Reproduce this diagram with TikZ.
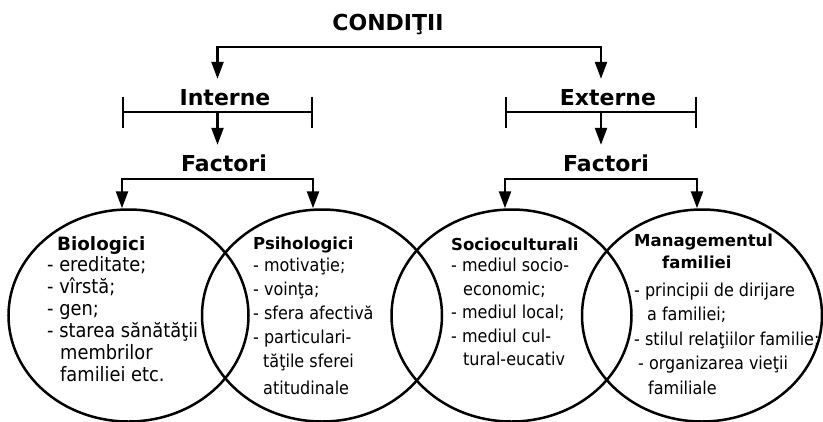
\documentclass[tikz,border=0pt]{standalone}
\usepackage{fontspec}
\setmainfont{DejaVu Sans}
\newfontfamily\corp{DejaVu Sans}[FakeStretch=0.9]
\usetikzlibrary{arrows.meta,shapes.geometric,calc}
\newcommand{\ind}[1]{\hspace*{#1pt}}

\begin{document}
\begin{tikzpicture}[x=1pt, y=-1pt]
	\tikzset{titlu/.style={font={\fontsize{22}{26}\selectfont\bfseries}, inner xsep=0pt, inner ysep=10pt, text height=16pt, text depth=5pt},
		cerc/.style={ellipse, draw, line width=2.5pt, minimum width=240pt, minimum height=212pt, inner sep=0pt},
		lista/.style={anchor=north west, inner sep=0pt, align=left},
		sageata/.style={line width=2.4pt, -{Triangle[width=12pt, length=17pt]}},
		dublu/.style={line width=2.4pt, {Triangle[width=12pt, length=17pt]}-{Triangle[width=12pt, length=17pt]}},
		bara/.style={line width=2.4pt, {Bar[width=31pt]}-{Bar[width=31pt]}}};

	\useasboundingbox (0,0) rectangle (823,421);

	\node[titlu] (cond) at (388,  24.5) {CONDIŢII};
	\node[titlu] (int)  at (225,  99.5) {Interne};
	\node[titlu] (ext)  at (608,  99.5) {Externe};
	\node[titlu] (fi)   at (224, 165.5) {Factori};
	\node[titlu] (fe)   at (606, 165.5) {Factori};

	\coordinate (top) at (410,  47);
	\coordinate (ram) at (410, 179);
	\coordinate (il)  at (122, 112);
	\coordinate (ir)  at (313, 112);
	\coordinate (el)  at (505, 112);
	\coordinate (er)  at (697, 112);
	\coordinate (im)  at ($(il)!.5!(ir)$);
	\coordinate (em)  at ($(el)!.5!(er)$);

	\node[cerc] (bio) at (128.5, 315.5) {};
	\node[cerc] (psi) at (322,   315.5) {};
	\node[cerc] (soc) at (511.5, 315.5) {};
	\node[cerc] (man) at (702,   315.5) {};

	\draw[dublu] (im |- int.north) |- (top) -| (em |- ext.north);
	\draw[bara] (il) -- (ir);
	\draw[bara] (el) -- (er);
	\draw[sageata] (im) -- (im |- fi.north);
	\draw[sageata] (em) -- (em |- fe.north);
	\draw[dublu] (il |- bio.north) |- (ram -| im) -| (ir |- psi.north);
	\draw[dublu] (el |- soc.north) |- (ram -| em) -| (er |- man.north);

	% textele din cercuri
	\node[lista, font={\corp\fontsize{19.8}{22}\selectfont}] (tbio) at (47, 236)
		{\rule{0pt}{14pt}\ind{10}{\normalfont\bfseries\fontsize{18.3}{22}\selectfont Biologici}\\[-0.5pt]
		- ereditate;\\ - vîrstă;\\ - gen;\\ - starea sănătăţii\\ \ind{13}membrilor\\ \ind{13}familiei etc.};
	\node[lista, font={\corp\fontsize{17.8}{24}\selectfont}] (tpsi) at (253, 236)
		{\rule{0pt}{13pt}{\normalfont\bfseries\fontsize{16.5}{24}\selectfont Psihologici}\\[-1.5pt]
		- motivaţie;\\ - voinţa;\\ - sfera afectivă\\ - particulari-\\ \ind{10}tăţile sferei\\[3pt] \ind{10}atitudinale};
	\node[lista, font={\corp\fontsize{17.8}{23.5}\selectfont}] (tsoc) at (451, 237)
		{\rule{0pt}{13pt}{\normalfont\bfseries\fontsize{16.5}{23.5}\selectfont Socioculturali}\\[-2pt]
		- mediul socio-\\ \ind{12}economic;\\ - mediul local;\\ - mediul cul-\\ \ind{12}tural-eucativ};
	\node[lista, font={\corp\fontsize{17.8}{24.5}\selectfont}] (tman) at (634, 233)
		{\rule{0pt}{13pt}{\normalfont\bfseries\fontsize{16.5}{24.5}\selectfont Managementul}\\[-2.5pt]
		\ind{28}{\normalfont\bfseries\fontsize{16.5}{24.5}\selectfont familiei}\\[3.5pt]
		- principii de dirijare\\ \ind{13}a familiei;\\ - stilul relaţiilor familie;\\ \ind{4}- organizarea vieţii\\ \ind{14}familiale};

\end{tikzpicture}
\end{document}
